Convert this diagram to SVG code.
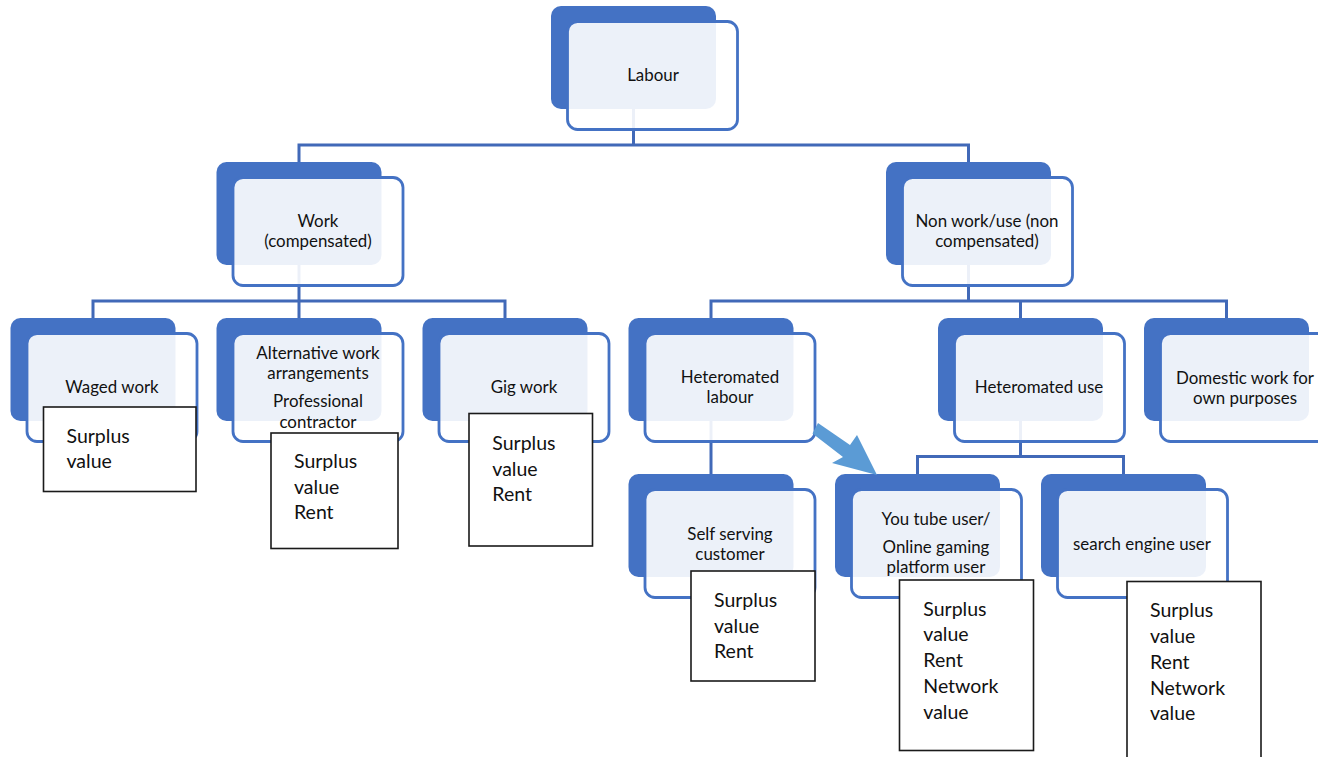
<svg xmlns="http://www.w3.org/2000/svg" width="1318" height="757" viewBox="0 0 1318 757">
<style>
.back{fill:#4472C4}
.front{fill:#FFFFFF;fill-opacity:0.9;stroke:#4472C4;stroke-width:2.8}
.lbl{font-family:Lato,"Liberation Sans",sans-serif;font-size:16.9px;fill:#111;text-anchor:middle}
.box{fill:#FFFFFF;stroke:#1a1a1a;stroke-width:1.6}
.bt{font-family:Lato,"Liberation Sans",sans-serif;font-size:19.5px;fill:#111}
.con{fill:none;stroke:#4169B8;stroke-width:3}
</style>
<rect width="1318" height="757" fill="#FFFFFF"/>
<g id="connectors">
<path class="con" d="M633.5,109 V145 M299,162 V145 H968.5 V162"/>
<path class="con" d="M299,265 V318 M93,318 V301 H505 V318"/>
<path class="con" d="M968.5,265 V301 M711,318 V301 H1226.5 V318 M1020.5,301 V318"/>
<path class="con" d="M711,421 V474"/>
<path class="con" d="M1020.5,421 V456.5 M917.5,474 V456.5 H1123.5 V474"/>
</g>
<g id="n-labour"><rect class="back" x="551" y="6" width="165" height="103" rx="10"/><rect class="front" x="567.5" y="21.5" width="170" height="108" rx="10"/><text class="lbl" x="653" y="81">Labour</text></g>
<g id="n-work"><rect class="back" x="216.5" y="162" width="165" height="103" rx="10"/><rect class="front" x="233" y="177.5" width="170" height="108" rx="10"/><text class="lbl" x="318" y="227">Work</text><text class="lbl" x="318" y="247">(compensated)</text></g>
<g id="n-nonwork"><rect class="back" x="886" y="162" width="165" height="103" rx="10"/><rect class="front" x="902.5" y="177.5" width="170" height="108" rx="10"/><text class="lbl" x="987" y="227">Non work/use (non</text><text class="lbl" x="987" y="247">compensated)</text></g>
<g id="n-waged"><rect class="back" x="10.5" y="318" width="165" height="103" rx="10"/><rect class="front" x="27" y="333.5" width="170" height="108" rx="10"/><text class="lbl" x="112" y="393">Waged work</text></g>
<g id="n-alt"><rect class="back" x="216.5" y="318" width="165" height="103" rx="10"/><rect class="front" x="233" y="333.5" width="170" height="108" rx="10"/><text class="lbl" x="318" y="359">Alternative work</text><text class="lbl" x="318" y="379">arrangements</text><text class="lbl" x="318" y="407">Professional</text><text class="lbl" x="318" y="428">contractor</text></g>
<g id="n-gig"><rect class="back" x="422.5" y="318" width="165" height="103" rx="10"/><rect class="front" x="439" y="333.5" width="170" height="108" rx="10"/><text class="lbl" x="524" y="393">Gig work</text></g>
<g id="n-hetlab"><rect class="back" x="628.5" y="318" width="165" height="103" rx="10"/><rect class="front" x="645" y="333.5" width="170" height="108" rx="10"/><text class="lbl" x="730" y="383">Heteromated</text><text class="lbl" x="730" y="403">labour</text></g>
<g id="n-hetuse"><rect class="back" x="938" y="318" width="165" height="103" rx="10"/><rect class="front" x="954.5" y="333.5" width="170" height="108" rx="10"/><text class="lbl" x="1039" y="393">Heteromated use</text></g>
<g id="n-domestic"><rect class="back" x="1144" y="318" width="165" height="103" rx="10"/><rect class="front" x="1160.5" y="333.5" width="170" height="108" rx="10"/><text class="lbl" x="1245" y="383.5">Domestic work for</text><text class="lbl" x="1245" y="404">own purposes</text></g>
<g id="n-self"><rect class="back" x="628.5" y="474" width="165" height="103" rx="10"/><rect class="front" x="645" y="489.5" width="170" height="108" rx="10"/><text class="lbl" x="730" y="540">Self serving</text><text class="lbl" x="730" y="560">customer</text></g>
<g id="n-youtube"><rect class="back" x="835" y="474" width="165" height="103" rx="10"/><rect class="front" x="851.5" y="489.5" width="170" height="108" rx="10"/><text class="lbl" x="936" y="525">You tube user/</text><text class="lbl" x="936" y="553">Online gaming</text><text class="lbl" x="936" y="573">platform user</text></g>
<g id="n-search"><rect class="back" x="1041" y="474" width="165" height="103" rx="10"/><rect class="front" x="1057.5" y="489.5" width="170" height="108" rx="10"/><text class="lbl" x="1142" y="550">search engine user</text></g>
<g id="arrow"><polygon points="818,423 850,445 857,435 877,475 832,463 843,457 812.5,433.5" fill="#5B9BD5"/></g>
<g id="b-waged"><rect class="box" x="43.5" y="407" width="152.5" height="84.5"/><text class="bt" x="66.5" y="443">Surplus</text><text class="bt" x="66.5" y="468">value</text></g>
<g id="b-alt"><rect class="box" x="271" y="433" width="127" height="115.5"/><text class="bt" x="294" y="468">Surplus</text><text class="bt" x="294" y="494">value</text><text class="bt" x="294" y="519">Rent</text></g>
<g id="b-gig"><rect class="box" x="469" y="413.5" width="123.5" height="132.5"/><text class="bt" x="492.3" y="450">Surplus</text><text class="bt" x="492.3" y="475.5">value</text><text class="bt" x="492.3" y="500.5">Rent</text></g>
<g id="b-self"><rect class="box" x="691" y="571" width="124" height="110"/><text class="bt" x="714" y="607">Surplus</text><text class="bt" x="714" y="633">value</text><text class="bt" x="714" y="658">Rent</text></g>
<g id="b-youtube"><rect class="box" x="899.5" y="580" width="134" height="170.5"/><text class="bt" x="923.3" y="615.5">Surplus</text><text class="bt" x="923.3" y="641">value</text><text class="bt" x="923.3" y="667">Rent</text><text class="bt" x="923.3" y="693">Network</text><text class="bt" x="923.3" y="718.5">value</text></g>
<g id="b-search"><rect class="box" x="1127" y="581.5" width="134" height="190"/><text class="bt" x="1150" y="617">Surplus</text><text class="bt" x="1150" y="643">value</text><text class="bt" x="1150" y="669">Rent</text><text class="bt" x="1150" y="694.5">Network</text><text class="bt" x="1150" y="720">value</text></g>
</svg>
